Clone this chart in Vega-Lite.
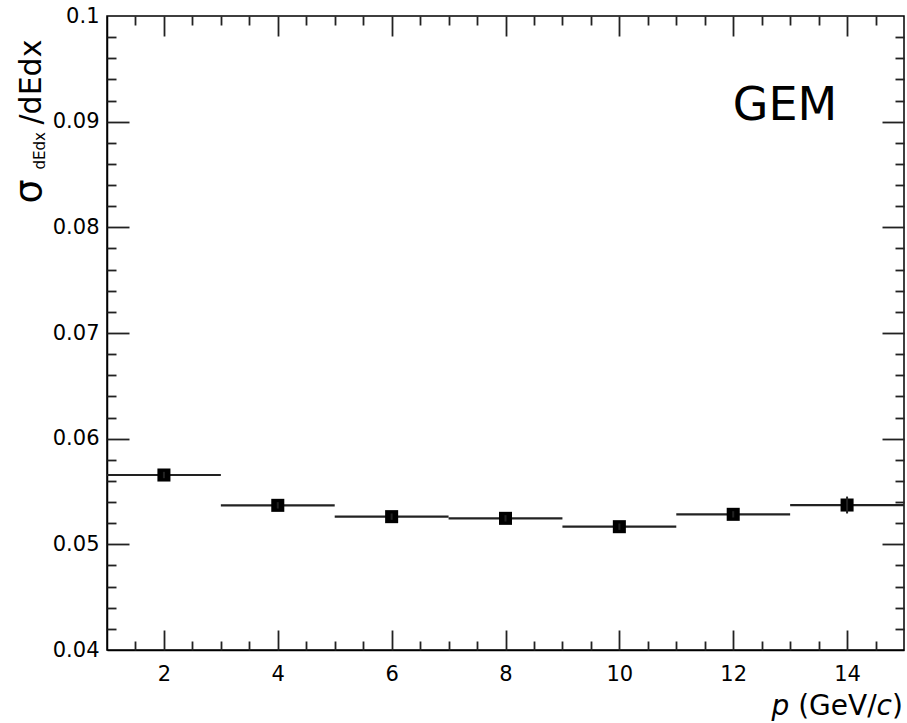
{
  "$schema": "https://vega.github.io/schema/vega-lite/v6.json",
  "width": 797,
  "height": 634,
  "autosize": "none",
  "padding": {"left": 107, "top": 16, "right": 3, "bottom": 73},
  "background": "white",
  "config": {
    "view": {"stroke": "black", "strokeWidth": 1.5},
    "axis": {
      "labelFont": "DejaVu Sans", "labelFontSize": 21, "labelColor": "black",
      "titleFont": "DejaVu Sans", "titleFontWeight": "normal", "titleColor": "black",
      "domainColor": "black", "domainWidth": 1.5, "tickColor": "#222222", "tickWidth": 1.8,
      "grid": false
    }
  },
  "data": {"values": [
    {"p": 2, "xlo": 1, "xhi": 3, "v": 0.05656, "lo": 0.05626, "hi": 0.05686},
    {"p": 4, "xlo": 3, "xhi": 5, "v": 0.05369, "lo": 0.05339, "hi": 0.05399},
    {"p": 6, "xlo": 5, "xhi": 7, "v": 0.05262, "lo": 0.05232, "hi": 0.05292},
    {"p": 8, "xlo": 7, "xhi": 9, "v": 0.05246, "lo": 0.05216, "hi": 0.05276},
    {"p": 10, "xlo": 9, "xhi": 11, "v": 0.05167, "lo": 0.05137, "hi": 0.05197},
    {"p": 12, "xlo": 11, "xhi": 13, "v": 0.05284, "lo": 0.05254, "hi": 0.05314},
    {"p": 14, "xlo": 13, "xhi": 15, "v": 0.05372, "lo": 0.05292, "hi": 0.05452}
  ]},
  "layer": [
    {
      "mark": {"type": "rule", "color": "#222222", "strokeWidth": 2.2},
      "encoding": {
        "x": {"field": "xlo", "type": "quantitative",
          "scale": {"domain": [1, 15], "nice": false, "zero": false},
          "axis": {"orient": "bottom", "values": [2, 4, 6, 8, 10, 12, 14], "format": "d",
            "labelFontSize": 21, "labelFont": "DejaVu Sans",
            "ticks": false, "tickSize": 0, "labelPadding": 13, "domain": true,
            "title": "p", "titleFontStyle": "italic", "titleFontSize": 28,
            "titleX": 664, "titleY": 64, "titleAlign": "left", "titleBaseline": "alphabetic", "titleAngle": 0}},
        "x2": {"field": "xhi"},
        "y": {"field": "v", "type": "quantitative",
          "scale": {"domain": [0.04, 0.1], "nice": false, "zero": false},
          "axis": {"orient": "left", "values": [0.04, 0.05, 0.06, 0.07, 0.08, 0.09, 0.1], "format": ".2~f",
            "labelFontSize": 21, "labelFont": "DejaVu Sans",
            "ticks": false, "tickSize": 0, "labelPadding": 8, "domain": true,
            "title": "σ", "titleFontSize": 38,
            "titleX": -67, "titleY": 187, "titleAlign": "left", "titleBaseline": "alphabetic", "titleAngle": 270}}
      }
    },
    {
      "mark": {"type": "square", "color": "black", "size": 170, "opacity": 1, "filled": true},
      "encoding": {
        "x": {"field": "p", "type": "quantitative",
          "scale": {"domain": [1, 15], "nice": false, "zero": false},
          "axis": {"orient": "bottom", "labels": false, "domain": false, "ticks": true,
            "values": [1.5, 2, 2.5, 3, 3.5, 4, 4.5, 5, 5.5, 6, 6.5, 7, 7.5, 8, 8.5, 9, 9.5, 10, 10.5, 11, 11.5, 12, 12.5, 13, 13.5, 14, 14.5],
            "tickSize": {"condition": {"test": "datum.value % 2 === 0", "value": -20}, "value": -9},
            "title": "(GeV/", "titleFontSize": 28,
            "titleX": 690.7, "titleY": 64, "titleAlign": "left", "titleBaseline": "alphabetic", "titleAngle": 0}},
        "y": {"field": "v", "type": "quantitative",
          "scale": {"domain": [0.04, 0.1], "nice": false, "zero": false},
          "axis": {"orient": "left", "labels": false, "domain": false, "ticks": true,
            "values": [0.042, 0.044, 0.046, 0.048, 0.05, 0.052, 0.054, 0.056, 0.058, 0.06, 0.062, 0.064, 0.066, 0.068, 0.07, 0.072, 0.074, 0.076, 0.078, 0.08, 0.082, 0.084, 0.086, 0.088, 0.09, 0.092, 0.094, 0.096, 0.098],
            "tickSize": {"condition": {"test": "abs(round(datum.value * 100) - datum.value * 100) < 0.01", "value": -22}, "value": -9},
            "title": "dEdx", "titleFontSize": 15,
            "titleX": -63, "titleY": 153, "titleAlign": "left", "titleBaseline": "alphabetic", "titleAngle": 270}}
      }
    },
    {
      "mark": {"type": "rule", "color": "#222222", "strokeWidth": 2},
      "encoding": {
        "x": {"field": "p", "type": "quantitative",
          "scale": {"domain": [1, 15], "nice": false, "zero": false},
          "axis": {"orient": "top", "labels": false, "domain": false, "ticks": true,
            "values": [1.5, 2, 2.5, 3, 3.5, 4, 4.5, 5, 5.5, 6, 6.5, 7, 7.5, 8, 8.5, 9, 9.5, 10, 10.5, 11, 11.5, 12, 12.5, 13, 13.5, 14, 14.5],
            "tickSize": {"condition": {"test": "datum.value % 2 === 0", "value": -20}, "value": -9},
            "title": "c", "titleFontStyle": "italic", "titleFontSize": 28,
            "titleX": 769.1, "titleY": 698, "titleAlign": "left", "titleBaseline": "alphabetic", "titleAngle": 0}},
        "y": {"field": "lo", "type": "quantitative",
          "scale": {"domain": [0.04, 0.1], "nice": false, "zero": false},
          "axis": {"orient": "right", "labels": false, "domain": false, "ticks": true,
            "values": [0.042, 0.044, 0.046, 0.048, 0.05, 0.052, 0.054, 0.056, 0.058, 0.06, 0.062, 0.064, 0.066, 0.068, 0.07, 0.072, 0.074, 0.076, 0.078, 0.08, 0.082, 0.084, 0.086, 0.088, 0.09, 0.092, 0.094, 0.096, 0.098],
            "tickSize": {"condition": {"test": "abs(round(datum.value * 100) - datum.value * 100) < 0.01", "value": -22}, "value": -9},
            "title": null}},
        "y2": {"field": "hi"}
      }
    },
    {
      "data": {"values": [{"label": "GEM", "gx": 12.91, "gy": 0.09016}]},
      "mark": {"type": "text", "font": "DejaVu Sans", "fontSize": 46, "color": "black", "align": "center", "baseline": "alphabetic"},
      "encoding": {
        "text": {"field": "label"},
        "x": {"field": "gx", "type": "quantitative",
          "scale": {"domain": [1, 15], "nice": false, "zero": false},
          "axis": {"orient": "bottom", "labels": false, "domain": false, "ticks": false,
            "title": ")", "titleFontSize": 28,
            "titleX": 784.5, "titleY": 64, "titleAlign": "left", "titleBaseline": "alphabetic", "titleAngle": 0}},
        "y": {"field": "gy", "type": "quantitative",
          "scale": {"domain": [0.04, 0.1], "nice": false, "zero": false},
          "axis": {"orient": "left", "labels": false, "domain": false, "ticks": false,
            "title": "/dEdx", "titleFontSize": 30,
            "titleX": -67, "titleY": 108, "titleAlign": "left", "titleBaseline": "alphabetic", "titleAngle": 270}}
      }
    }
  ],
  "resolve": {"axis": {"x": "independent", "y": "independent"}}
}
